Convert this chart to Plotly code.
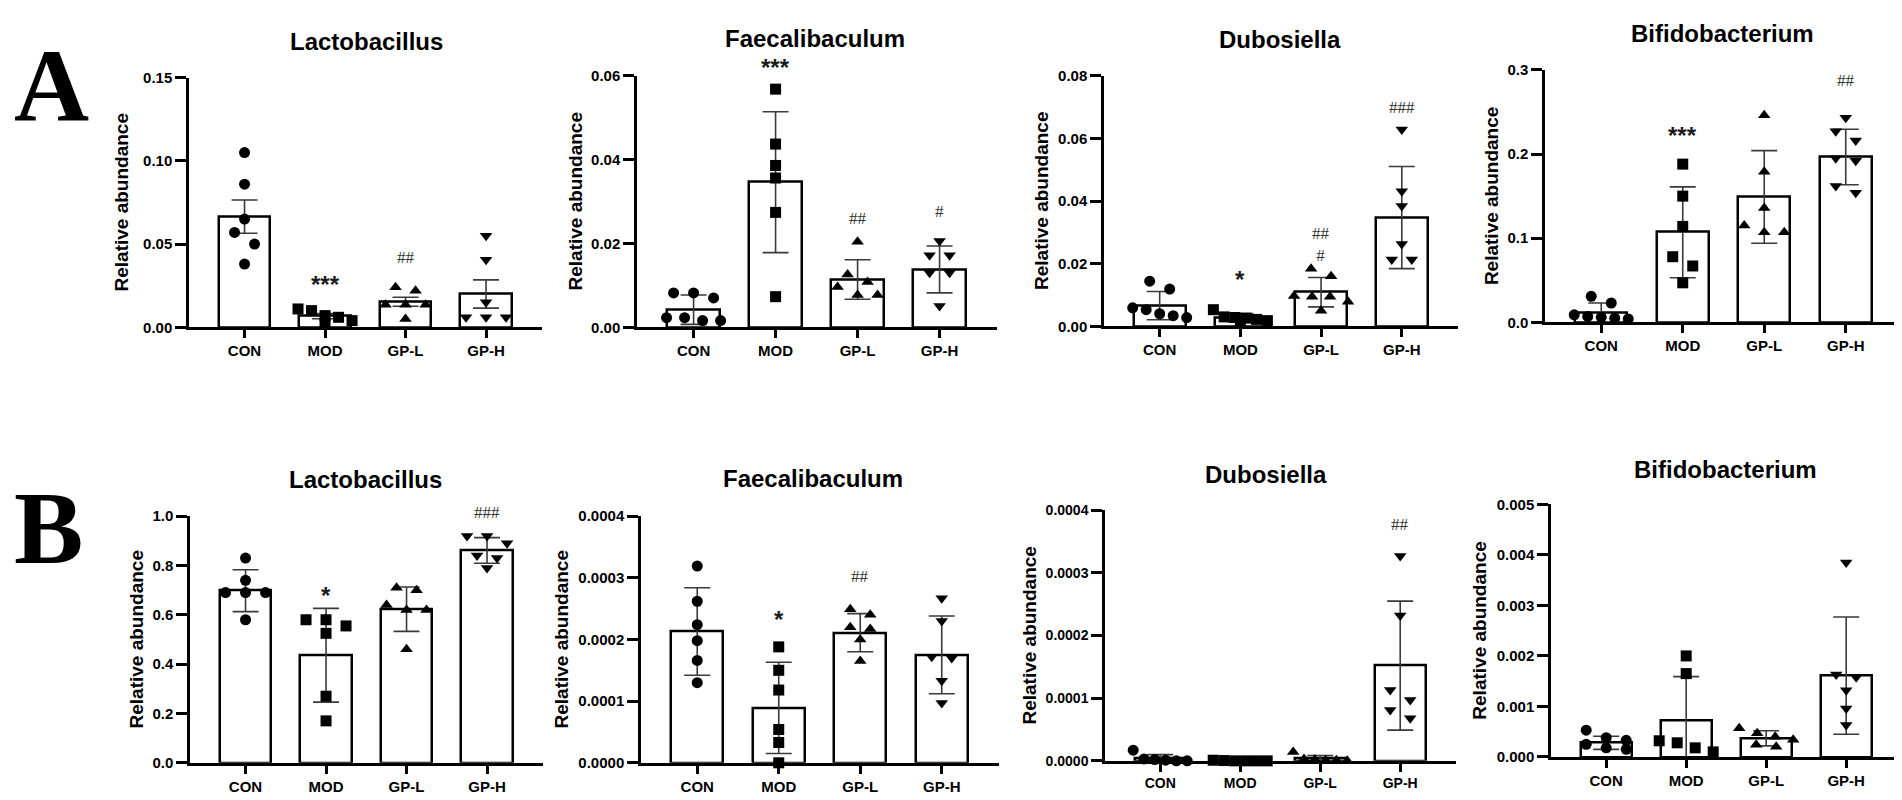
import plotly.graph_objects as go

# ---------------------------------------------------------------------
# Data (relative abundance, n = 6-7 per group)
# ---------------------------------------------------------------------
GROUPS = ["CON", "MOD", "GP-L", "GP-H"]

# A - Lactobacillus
A_LACTO_PTS = [[0.105, 0.086, 0.065, 0.057, 0.050, 0.038],
               [0.011, 0.010, 0.007, 0.006, 0.004, 0.002],
               [0.024, 0.022, 0.0135, 0.0135, 0.0135, 0.005],
               [0.055, 0.0405, 0.015, 0.006, 0.006, 0.006]]
A_LACTO_MEAN = [0.0665, 0.0067, 0.0153, 0.0200]
A_LACTO_ERR = [0.0100, 0.0016, 0.0027, 0.0085]
A_LACTO_SIG = ["", "***", "##", ""]
A_LACTO_SIG_Y = [None, 0.029, 0.042, None]

# A - Faecalibaculum
A_FAEC_PTS = [[0.0082, 0.0082, 0.0070, 0.0023, 0.0023, 0.0016, 0.0016],
              [0.0568, 0.0437, 0.0386, 0.0356, 0.0274, 0.0073],
              [0.0204, 0.0126, 0.0108, 0.0096, 0.0077, 0.0077],
              [0.0206, 0.0172, 0.0172, 0.0130, 0.0130, 0.0051]]
A_FAEC_MEAN = [0.0042, 0.0346, 0.0114, 0.0138]
A_FAEC_ERR = [0.0035, 0.0168, 0.0047, 0.0056]
A_FAEC_SIG = ["", "***", "##", "#"]
A_FAEC_SIG_Y = [None, 0.0632, 0.026, 0.0276]

# A - Dubosiella
A_DUBO_PTS = [[0.0144, 0.0119, 0.0059, 0.0053, 0.0040, 0.0034, 0.0028],
              [0.0053, 0.0030, 0.0028, 0.0026, 0.0022, 0.0018, 0.0012],
              [0.0184, 0.0160, 0.0097, 0.0094, 0.0094, 0.0078, 0.0050],
              [0.0628, 0.0431, 0.0384, 0.0263, 0.0213, 0.0213]]
A_DUBO_MEAN = [0.0066, 0.0028, 0.0109, 0.0347]
A_DUBO_ERR = [0.0045, 0.0013, 0.0047, 0.0163]
A_DUBO_SIG = ["", "*", "##<br>#", "###"]
A_DUBO_SIG_Y = [None, 0.0166, 0.0262, 0.0697]

# A - Bifidobacterium
A_BIFI_PTS = [[0.031, 0.023, 0.009, 0.007, 0.006, 0.005, 0.004],
              [0.188, 0.150, 0.114, 0.078, 0.067, 0.047],
              [0.246, 0.179, 0.136, 0.115, 0.107, 0.107],
              [0.243, 0.227, 0.216, 0.195, 0.192, 0.162, 0.154]]
A_BIFI_MEAN = [0.0115, 0.107, 0.149, 0.1965]
A_BIFI_ERR = [0.0115, 0.054, 0.055, 0.033]
A_BIFI_SIG = ["", "***", "", "##"]
A_BIFI_SIG_Y = [None, 0.228, None, 0.287]

# B - Lactobacillus
B_LACTO_PTS = [[0.83, 0.74, 0.69, 0.69, 0.69, 0.58],
               [0.58, 0.58, 0.555, 0.525, 0.27, 0.17],
               [0.71, 0.70, 0.64, 0.62, 0.62, 0.46],
               [0.92, 0.92, 0.89, 0.84, 0.83, 0.79]]
B_LACTO_MEAN = [0.698, 0.436, 0.623, 0.861]
B_LACTO_ERR = [0.085, 0.19, 0.09, 0.052]
B_LACTO_SIG = ["", "*", "", "###"]
B_LACTO_SIG_Y = [None, 0.70, None, 1.016]

# B - Faecalibaculum
B_FAEC_PTS = [[0.000319, 0.000262, 0.000224, 0.000198, 0.000166, 0.000130],
              [0.000188, 0.000150, 0.000118, 0.000054, 0.000033, 0.0],
              [0.000249, 0.000240, 0.000220, 0.000217, 0.000200, 0.000165],
              [0.000267, 0.000230, 0.000172, 0.000170, 0.000133, 0.000097]]
B_FAEC_MEAN = [0.000213, 0.000089, 0.000211, 0.000175]
B_FAEC_ERR = [0.000071, 0.000074, 0.000031, 0.000063]
B_FAEC_SIG = ["", "*", "##", ""]
B_FAEC_SIG_Y = [None, 0.000241, 0.000302, None]

# B - Dubosiella
B_DUBO_PTS = [[0.000017, 0.000003, 0.000002, 0.000001, 0.0, 0.0],
              [0.000001, 0.0000005, 0.0, 0.0, 0.0, 0.0],
              [0.000014, 0.000003, 0.000002, 0.000001, 0.000001, 0.0],
              [0.000327, 0.000232, 0.000113, 0.000097, 0.000081, 0.000068]]
B_DUBO_MEAN = [0.000004, 0.0000005, 0.0000035, 0.000152]
B_DUBO_ERR = [0.000006, 0.0000005, 0.000005, 0.000103]
B_DUBO_SIG = ["", "", "", "##"]
B_DUBO_SIG_Y = [None, None, None, 0.000378]

# B - Bifidobacterium
B_BIFI_PTS = [[0.00053, 0.00038, 0.00033, 0.00025, 0.00018, 0.00015],
              [0.00200, 0.00165, 0.00032, 0.00028, 0.00018, 0.00010],
              [0.00057, 0.00047, 0.00040, 0.00034, 0.00024, 0.00020],
              [0.00385, 0.00163, 0.00158, 0.00132, 0.00096, 0.00063]]
B_BIFI_MEAN = [0.00028, 0.00073, 0.00037, 0.00161]
B_BIFI_ERR = [0.00013, 0.00086, 0.00015, 0.00116]
B_BIFI_SIG = ["", "", "", ""]
B_BIFI_SIG_Y = [None, None, None, None]


# ---------------------------------------------------------------------
# Layout of the 2 x 4 grid (pixel geometry of each panel)
# ---------------------------------------------------------------------
W, H = 1902, 800
X_LO, X_HI = -0.69, 3.70
SYMBOLS = ["circle", "square", "triangle-up", "triangle-down"]
SANS = "Liberation Sans"
SERIF = "Liberation Serif"

PANELS = [
    dict(title="Lactobacillus", pts=A_LACTO_PTS, mean=A_LACTO_MEAN, err=A_LACTO_ERR,
         sig=A_LACTO_SIG, sig_y=A_LACTO_SIG_Y, ymax=0.15, dtick=0.05, fmt=".2f",
         x0=181, step=80.5, ytop=62, ybot=317, title_xy=(358, 25), ylab_x=113),
    dict(title="Faecalibaculum", pts=A_FAEC_PTS, mean=A_FAEC_MEAN, err=A_FAEC_ERR,
         sig=A_FAEC_SIG, sig_y=A_FAEC_SIG_Y, ymax=0.06, dtick=0.02, fmt=".2f",
         x0=629, step=82, ytop=60, ybot=317, title_xy=(807, 22), ylab_x=567),
    dict(title="Dubosiella", pts=A_DUBO_PTS, mean=A_DUBO_MEAN, err=A_DUBO_ERR,
         sig=A_DUBO_SIG, sig_y=A_DUBO_SIG_Y, ymax=0.08, dtick=0.02, fmt=".2f",
         x0=1096, step=80.7, ytop=60, ybot=316, title_xy=(1272, 23), ylab_x=1033),
    dict(title="Bifidobacterium", pts=A_BIFI_PTS, mean=A_BIFI_MEAN, err=A_BIFI_ERR,
         sig=A_BIFI_SIG, sig_y=A_BIFI_SIG_Y, ymax=0.3, dtick=0.1, fmt=".1f",
         x0=1537, step=81.5, ytop=54, ybot=312, title_xy=(1714, 17), ylab_x=1483),
    dict(title="Lactobacillus", pts=B_LACTO_PTS, mean=B_LACTO_MEAN, err=B_LACTO_ERR,
         sig=B_LACTO_SIG, sig_y=B_LACTO_SIG_Y, ymax=1.0, dtick=0.2, fmt=".1f",
         x0=182, step=80.5, ytop=510, ybot=762, title_xy=(357, 473), ylab_x=128),
    dict(title="Faecalibaculum", pts=B_FAEC_PTS, mean=B_FAEC_MEAN, err=B_FAEC_ERR,
         sig=B_FAEC_SIG, sig_y=B_FAEC_SIG_Y, ymax=0.0004, dtick=0.0001, fmt=".4f",
         x0=633, step=81.5, ytop=510, ybot=762, title_xy=(805, 472), ylab_x=553),
    dict(title="Dubosiella", pts=B_DUBO_PTS, mean=B_DUBO_MEAN, err=B_DUBO_ERR,
         sig=B_DUBO_SIG, sig_y=B_DUBO_SIG_Y, ymax=0.0004, dtick=0.0001, fmt=".4f",
         x0=1097, step=80, ytop=504, ybot=760, title_xy=(1258, 467), ylab_x=1022),
    dict(title="Bifidobacterium", pts=B_BIFI_PTS, mean=B_BIFI_MEAN, err=B_BIFI_ERR,
         sig=B_BIFI_SIG, sig_y=B_BIFI_SIG_Y, ymax=0.005, dtick=0.001, fmt=".3f",
         x0=1543, step=80, ytop=498, ybot=756, title_xy=(1717, 462), ylab_x=1472),
]


def swarm_offsets(values, px_per_y, px_per_cat, gap=12, spread=20, max_span=54):
    """GraphPad-like scatter: points closer than `gap` px in y share a row."""
    order = sorted(range(len(values)), key=lambda i: -values[i])
    rows = []
    for i in order:
        if rows and (values[rows[-1][0]] - values[i]) * px_per_y < gap:
            rows[-1].append(i)
        else:
            rows.append([i])
    offsets = [0.0] * len(values)
    for row in rows:
        n = len(row)
        st = spread if n < 2 else min(spread, max_span / (n - 1))
        for k, i in enumerate(row):
            offsets[i] = (k - (n - 1) / 2) * st / px_per_cat
    return offsets


fig = go.Figure()
annotations = []
layout_axes = {}

for k, p in enumerate(PANELS, start=1):
    sfx = "" if k == 1 else str(k)
    xa, ya = f"x{sfx}", f"y{sfx}"
    x1 = p["x0"] + (X_HI - X_LO) * p["step"]
    px_per_y = (p["ybot"] - p["ytop"]) / p["ymax"]

    fig.add_trace(go.Bar(
        x=list(range(4)), y=p["mean"], width=0.64,
        marker=dict(color="white", line=dict(color="black", width=2.5)),
        error_y=dict(type="data", array=p["err"], visible=True,
                     color="#3a3a3a", thickness=1.6, width=13),
        xaxis=xa, yaxis=ya, showlegend=False, hoverinfo="skip",
    ))

    xs, ys, syms = [], [], []
    for g, vals in enumerate(p["pts"]):
        offs = swarm_offsets(vals, px_per_y, p["step"])
        xs += [g + o for o in offs]
        ys += vals
        syms += [SYMBOLS[g]] * len(vals)
    fig.add_trace(go.Scatter(
        x=xs, y=ys, mode="markers", cliponaxis=False,
        marker=dict(symbol=syms, size=11, color="black", line=dict(width=0)),
        xaxis=xa, yaxis=ya, showlegend=False, hoverinfo="skip",
    ))

    small = k == 7
    tick_font = dict(family=SANS, size=14 if small else 15, color="black", weight="bold")
    layout_axes[f"xaxis{sfx}"] = dict(
        domain=[p["x0"] / W, x1 / W], range=[X_LO, X_HI], anchor=ya,
        tickvals=list(range(4)), ticktext=GROUPS, tickfont=tick_font,
        showline=True, linecolor="black", linewidth=2.5,
        ticks="outside", ticklen=8, tickwidth=2.5, tickcolor="black",
        showgrid=False, zeroline=False, fixedrange=True,
    )
    layout_axes[f"yaxis{sfx}"] = dict(
        domain=[1 - p["ybot"] / H, 1 - p["ytop"] / H], range=[0, p["ymax"]], anchor=xa,
        tick0=0, dtick=p["dtick"], tickformat=p["fmt"], tickfont=tick_font,
        showline=True, linecolor="black", linewidth=2.5,
        ticks="outside", ticklen=11, tickwidth=2.5, tickcolor="black",
        showgrid=False, zeroline=False, fixedrange=True,
    )

    # panel title and y-axis title
    annotations.append(dict(
        text=p["title"], x=p["title_xy"][0] / W, y=1 - p["title_xy"][1] / H,
        xref="paper", yref="paper", showarrow=False, xanchor="center", yanchor="middle",
        font=dict(family=SANS, size=24, color="black", weight="bold"),
    ))
    annotations.append(dict(
        text="Relative abundance", textangle=-90,
        x=p["ylab_x"] / W, y=1 - (p["ytop"] + p["ybot"]) / 2 / H,
        xref="paper", yref="paper", showarrow=False, xanchor="center", yanchor="middle",
        font=dict(family=SANS, size=19, color="black", weight="bold"),
    ))

    # significance marks (placed on the y axis domain so marks above the
    # axis range are still drawn)
    for g, (s, sy) in enumerate(zip(p["sig"], p["sig_y"])):
        if not s:
            continue
        if "*" in s:
            font = dict(family=SANS, size=24, color="#1a1a1a", weight="bold")
            shift = -5
        else:
            font = dict(family=SERIF, size=17, color="#333333")
            shift = 0
        annotations.append(dict(
            text=s, x=g, y=sy / p["ymax"], xref=xa, yref=f"{ya} domain",
            showarrow=False, xanchor="center", yanchor="middle", yshift=shift, font=font,
        ))

# big panel letters
for letter, cx, cy in [("A", 43, 70), ("B", 40, 522)]:
    annotations.append(dict(
        text=letter, x=cx / W, y=1 - cy / H, xref="paper", yref="paper",
        showarrow=False, xanchor="center", yanchor="middle",
        font=dict(family=SERIF, size=104, color="black", weight="bold"),
    ))

fig.update_layout(
    width=W, height=H, margin=dict(l=0, r=0, t=0, b=0),
    paper_bgcolor="white", plot_bgcolor="white",
    bargap=0, annotations=annotations, **layout_axes,
)

fig.write_html("out.html")
